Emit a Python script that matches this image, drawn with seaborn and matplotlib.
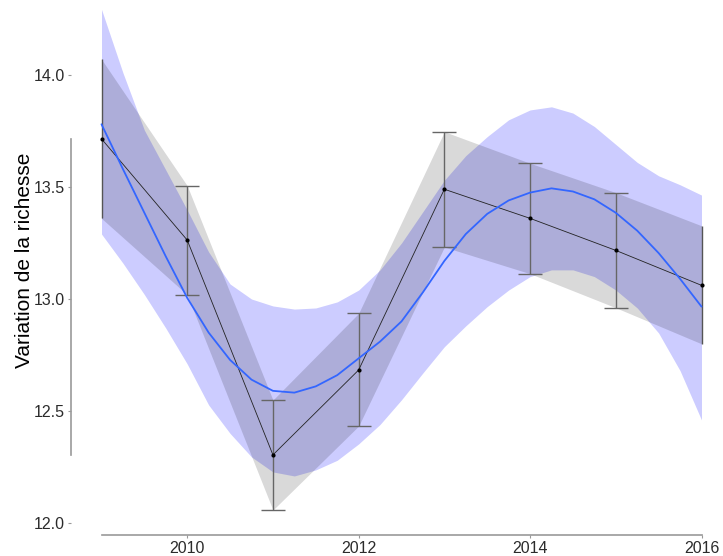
import matplotlib
matplotlib.use("Agg")
import matplotlib.pyplot as plt
import seaborn as sns
import numpy as np
import pandas as pd

# ---- data ----
years = [2009, 2010, 2011, 2012, 2013, 2014, 2015, 2016]
mean_rich = [13.715, 13.263, 12.304, 12.683, 13.490, 13.360, 13.217, 13.061]
err_low = [13.360, 13.019, 12.058, 12.433, 13.232, 13.113, 12.961, 12.800]
err_high = [14.070, 13.506, 12.549, 12.936, 13.747, 13.606, 13.475, 13.327]

smooth_x = [2009.0, 2009.25, 2009.5, 2009.75, 2010.0, 2010.25, 2010.5, 2010.75,
            2011.0, 2011.25, 2011.5, 2011.75, 2012.0, 2012.25, 2012.5, 2012.75,
            2013.0, 2013.25, 2013.5, 2013.75, 2014.0, 2014.25, 2014.5, 2014.75,
            2015.0, 2015.25, 2015.5, 2015.75, 2016.0]
smooth_y = [13.78, 13.58, 13.385, 13.19, 13.005, 12.85, 12.728, 12.64,
            12.59, 12.582, 12.61, 12.66, 12.735, 12.81, 12.90, 13.03,
            13.17, 13.29, 13.38, 13.44, 13.475, 13.494, 13.48, 13.445,
            13.385, 13.305, 13.205, 13.09, 12.966]
smooth_lo = [13.29, 13.16, 13.02, 12.87, 12.71, 12.527, 12.40, 12.295,
             12.228, 12.21, 12.237, 12.28, 12.353, 12.44, 12.55, 12.67,
             12.787, 12.88, 12.966, 13.04, 13.10, 13.13, 13.13, 13.10,
             13.04, 12.96, 12.848, 12.68, 12.46]
smooth_hi = [14.293, 14.01, 13.754, 13.576, 13.397, 13.21, 13.067, 13.0,
             12.969, 12.955, 12.96, 12.987, 13.04, 13.13, 13.25, 13.39,
             13.53, 13.64, 13.725, 13.80, 13.844, 13.858, 13.83, 13.77,
             13.69, 13.61, 13.55, 13.51, 13.464]

y_ticks = [12.0, 12.5, 13.0, 13.5, 14.0]
x_ticks = [2010, 2012, 2014, 2016]
y_label = "Variation de la richesse"

df = pd.DataFrame({"annee": years, "richesse": mean_rich})
sm = pd.DataFrame({"annee": smooth_x, "fit": smooth_y})

sns.set_style("white")
plt.rcParams["font.family"] = ["Liberation Sans", "DejaVu Sans"]

fig = plt.figure(figsize=(7.23, 5.56), dpi=100)
W, H = 723, 556
ax = fig.add_axes([71 / W, (H - 535) / H, (W - 71) / W, 535 / H])

# ribbons
ax.fill_between(smooth_x, smooth_lo, smooth_hi, color=(0, 0, 1), alpha=0.2,
                linewidth=0, zorder=1)
ax.fill_between(years, err_low, err_high, color="black", alpha=0.15,
                linewidth=0, zorder=2)

# error bars
yerr = [np.array(mean_rich) - np.array(err_low), np.array(err_high) - np.array(mean_rich)]
inner = slice(1, 7)
ax.errorbar(years[inner], mean_rich[inner],
            yerr=[yerr[0][inner], yerr[1][inner]], fmt="none",
            ecolor="#666666", elinewidth=1.0, capsize=8.5, capthick=1.0, zorder=3)
for i in (0, 7):
    ax.vlines(years[i], err_low[i], err_high[i], color="#555555", linewidth=1.0, zorder=3)

# smooth fit line
sns.lineplot(data=sm, x="annee", y="fit", ax=ax, color="#3366FF", linewidth=1.3,
             zorder=5, sort=True)
# mean line and points
sns.lineplot(data=df, x="annee", y="richesse", ax=ax, color="#222222",
             linewidth=0.6, zorder=4)
sns.scatterplot(data=df, x="annee", y="richesse", ax=ax, color="black", s=9,
                linewidth=0, zorder=6)

# axes limits mapping
px_per_year = 600 / 7
ax.set_xlim(2009 - 30.5 / px_per_year, 2016 + 21.5 / px_per_year)
ax.set_ylim(14 - 460 / 224, 14 + 75 / 224)

# range-frame spines
for s in ("top", "right"):
    ax.spines[s].set_visible(False)
ax.spines["left"].set_bounds(min(mean_rich), max(mean_rich))
ax.spines["bottom"].set_bounds(min(years), max(years))
for s in ("left", "bottom"):
    ax.spines[s].set_color("#999999")
    ax.spines[s].set_linewidth(1.2)

ax.set_yticks(y_ticks)
ax.set_yticklabels([f"{v:.1f}" for v in y_ticks])
ax.set_xticks(x_ticks)
ax.set_xticklabels([str(v) for v in x_ticks])
ax.tick_params(axis="both", direction="out", length=2.5, width=0.8, color="#999999",
               labelsize=11.5, labelcolor="#2b2b2b", pad=2, left=True, bottom=True)
ax.set_xlabel("")
ax.set_ylabel(y_label, fontsize=15, color="black")
ax.yaxis.set_label_coords(-0.056, 0.513)
ax.grid(False)
ax.set_facecolor("white")

fig.savefig("out.png", dpi=100)
